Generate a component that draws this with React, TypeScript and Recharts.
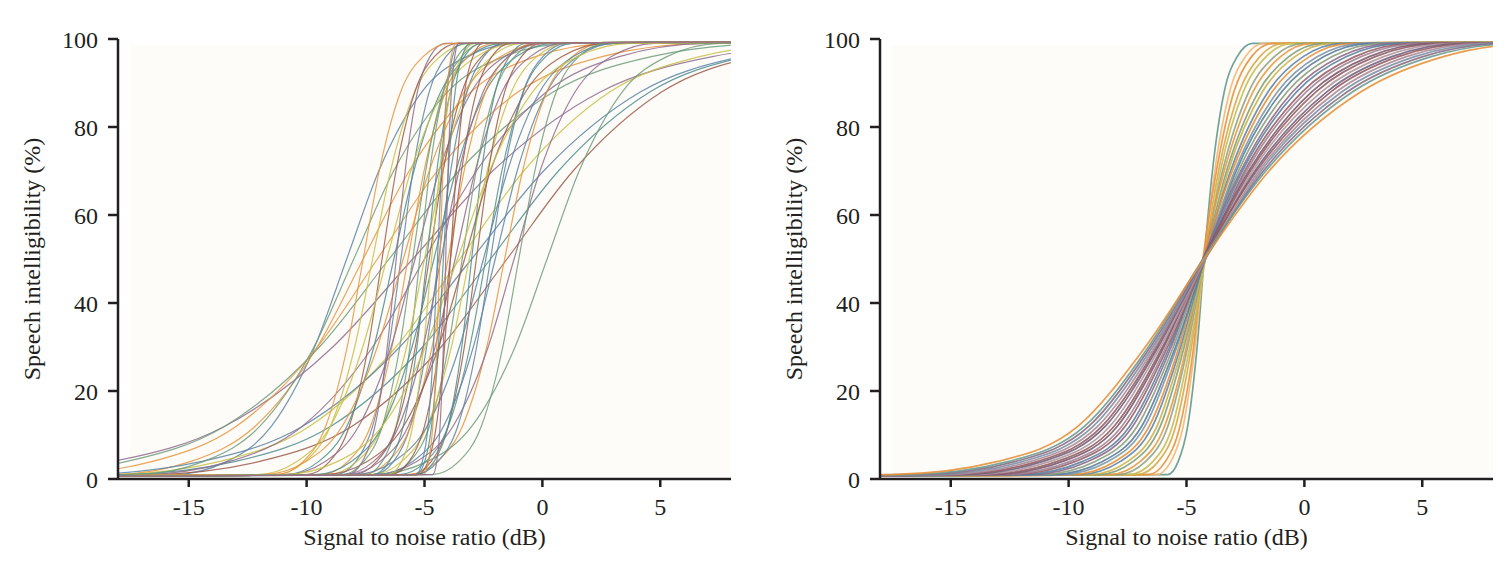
import React from 'react';
import { LineChart, Line, XAxis, YAxis, ReferenceArea } from 'recharts';

// Each curve is listed as the SNR (dB) at which it reaches these intelligibility levels (%)
const LEVELS = [1, 4, 12, 30, 50, 70, 88, 96, 99];
const X_TICKS = [-15, -10, -5, 0, 5];
const Y_TICKS = [0, 20, 40, 60, 80, 100];
const X_TITLE = 'Signal to noise ratio (dB)';
const Y_TITLE = 'Speech intelligibility (%)';

// left panel: individual listeners
const LEFT_SNR: number[][] = [
  [-15.65, -13.38, -11.49, -9.66, -8.3, -6.94, -5.11, -3.22, -0.95],
  [-18.17, -14.91, -12.18, -9.55, -7.6, -5.65, -3.02, -0.29, 2.97],
  [-23.88, -18.21, -13.47, -8.89, -5.5, -2.11, 2.47, 7.21, 12.88],
  [-22.58, -17.62, -13.47, -9.46, -6.5, -3.54, 0.47, 4.62, 9.58],
  [-18.2, -13.67, -9.87, -6.21, -3.5, -0.79, 2.87, 6.67, 11.2],
  [-16.66, -11.99, -8.07, -4.3, -1.5, 1.3, 5.07, 8.99, 13.66],
  [-17.82, -13.01, -8.97, -5.08, -2.2, 0.68, 4.57, 8.61, 13.42],
  [-19.54, -14.44, -10.17, -6.05, -3.0, 0.05, 4.17, 8.44, 13.54],
  [-20.79, -16.53, -12.98, -9.54, -7.0, -4.46, -1.02, 2.53, 6.79],
  [-16.95, -13.26, -10.18, -7.2, -5.0, -2.8, 0.18, 3.26, 6.95],
  [-17.19, -14.36, -11.98, -9.69, -8.0, -6.31, -4.02, -1.64, 1.19],
  [-11.34, -10.06, -8.99, -7.96, -7.2, -6.44, -5.41, -4.34, -3.06],
  [-10.02, -9.02, -8.19, -7.39, -6.8, -6.21, -5.41, -4.58, -3.58],
  [-10.9, -9.48, -8.29, -7.15, -6.3, -5.45, -4.31, -3.12, -1.7],
  [-8.76, -7.91, -7.2, -6.51, -6.0, -5.49, -4.8, -4.09, -3.24],
  [-9.38, -8.24, -7.29, -6.38, -5.7, -5.02, -4.11, -3.16, -2.02],
  [-10.91, -9.21, -7.79, -6.42, -5.4, -4.38, -3.01, -1.59, 0.11],
  [-7.5, -6.79, -6.2, -5.62, -5.2, -4.78, -4.2, -3.61, -2.9],
  [-9.14, -7.86, -6.79, -5.76, -5.0, -4.24, -3.21, -2.14, -0.86],
  [-8.02, -7.02, -6.19, -5.39, -4.8, -4.21, -3.41, -2.58, -1.58],
  [-9.65, -8.1, -6.79, -5.53, -4.6, -3.67, -2.41, -1.1, 0.45],
  [-7.16, -6.31, -5.6, -4.91, -4.4, -3.89, -3.2, -2.49, -1.64],
  [-7.68, -6.54, -5.59, -4.68, -4.0, -3.32, -2.41, -1.46, -0.32],
  [-8.3, -6.88, -5.69, -4.55, -3.7, -2.85, -1.71, -0.52, 0.9],
  [-6.62, -5.62, -4.79, -3.99, -3.4, -2.81, -2.01, -1.18, -0.18],
  [-7.24, -5.96, -4.89, -3.86, -3.1, -2.34, -1.31, -0.24, 1.04],
  [-5.56, -4.71, -4.0, -3.31, -2.8, -2.29, -1.6, -0.89, -0.04],
  [-6.08, -4.94, -3.99, -3.08, -2.4, -1.72, -0.81, 0.14, 1.28],
  [-7.05, -5.5, -4.19, -2.93, -2.0, -1.07, 0.19, 1.5, 3.05],
  [-5.74, -4.46, -3.39, -2.36, -1.6, -0.84, 0.19, 1.26, 2.54],
  [-7.17, -5.33, -3.79, -2.3, -1.2, -0.1, 1.39, 2.93, 4.77],
  [-7.15, -4.88, -2.99, -1.16, 0.2, 1.56, 3.39, 5.28, 7.55],
  [-12.11, -10.41, -8.99, -7.62, -6.6, -5.58, -4.21, -2.79, -1.09],
  [-9.27, -7.43, -5.89, -4.4, -3.3, -2.2, -0.71, 0.83, 2.67],
  [-7.2, -6.49, -5.9, -5.32, -4.9, -4.48, -3.9, -3.31, -2.6],
  [-8.01, -6.31, -4.89, -3.52, -2.5, -1.48, -0.11, 1.31, 3.01],
  [-11.87, -10.03, -8.49, -7.0, -5.9, -4.8, -3.31, -1.77, 0.07],
  [-8.27, -7.63, -7.1, -6.58, -6.2, -5.82, -5.3, -4.77, -4.13],
  [-8.49, -7.57, -6.79, -6.05, -5.5, -4.95, -4.21, -3.43, -2.51],
  [-6.54, -5.97, -5.5, -5.04, -4.7, -4.36, -3.9, -3.43, -2.86],
  [-6.43, -5.65, -5.0, -4.37, -3.9, -3.43, -2.8, -2.15, -1.37],
  [-5.3, -4.59, -4.0, -3.42, -3.0, -2.58, -2.0, -1.41, -0.7],
  [-5.42, -4.42, -3.59, -2.79, -2.2, -1.61, -0.81, 0.02, 1.02],
  [-11.28, -10.14, -9.19, -8.28, -7.6, -6.92, -6.01, -5.06, -3.92],
  [-8.44, -7.16, -6.09, -5.06, -4.3, -3.54, -2.51, -1.44, -0.16],
  [-4.68, -3.54, -2.59, -1.68, -1.0, -0.32, 0.59, 1.54, 2.68],
  [-10.95, -8.68, -6.79, -4.96, -3.6, -2.24, -0.41, 1.48, 3.75],
  [-5.28, -4.85, -4.5, -4.15, -3.9, -3.65, -3.3, -2.95, -2.52],
  [-5.35, -4.99, -4.7, -4.41, -4.2, -3.99, -3.7, -3.41, -3.05],
  [-5.37, -5.09, -4.85, -4.62, -4.45, -4.28, -4.05, -3.81, -3.53],
  [-5.04, -4.83, -4.65, -4.48, -4.35, -4.22, -4.05, -3.87, -3.66],
  [-4.65, -4.48, -4.34, -4.2, -4.1, -4.0, -3.86, -3.72, -3.55],
];

// right panel: curves after normalisation, steepest first
const RIGHT_SNR: number[][] = [
  [-5.8, -5.35, -4.95, -4.55, -4.25, -3.9, -3.4, -2.85, -2.2],
  [-6.27, -5.66, -5.14, -4.64, -4.25, -3.8, -3.17, -2.5, -1.72],
  [-6.62, -5.89, -5.28, -4.7, -4.3, -3.73, -2.99, -2.24, -1.36],
  [-7.09, -6.19, -5.46, -4.79, -4.25, -3.64, -2.76, -1.89, -0.88],
  [-7.44, -6.42, -5.6, -4.86, -4.2, -3.56, -2.59, -1.62, -0.52],
  [-7.91, -6.73, -5.79, -4.95, -4.25, -3.47, -2.36, -1.27, -0.04],
  [-8.26, -6.96, -5.93, -5.01, -4.3, -3.4, -2.18, -1.01, 0.32],
  [-8.73, -7.26, -6.11, -5.1, -4.25, -3.3, -1.95, -0.66, 0.8],
  [-9.08, -7.49, -6.25, -5.17, -4.2, -3.23, -1.78, -0.4, 1.16],
  [-9.54, -7.8, -6.44, -5.25, -4.25, -3.13, -1.54, -0.05, 1.64],
  [-9.9, -8.03, -6.58, -5.32, -4.3, -3.06, -1.37, 0.21, 2.0],
  [-10.36, -8.33, -6.76, -5.41, -4.25, -2.96, -1.14, 0.56, 2.48],
  [-10.71, -8.56, -6.9, -5.47, -4.2, -2.89, -0.96, 0.83, 2.84],
  [-11.18, -8.87, -7.09, -5.56, -4.25, -2.8, -0.73, 1.18, 3.32],
  [-11.65, -9.18, -7.28, -5.65, -4.3, -2.7, -0.5, 1.53, 3.8],
  [-12.0, -9.4, -7.41, -5.72, -4.25, -2.63, -0.33, 1.79, 4.16],
  [-12.47, -9.71, -7.6, -5.8, -4.2, -2.53, -0.09, 2.14, 4.64],
  [-12.82, -9.94, -7.74, -5.87, -4.25, -2.46, 0.08, 2.4, 5.0],
  [-13.29, -10.25, -7.93, -5.96, -4.3, -2.36, 0.31, 2.75, 5.48],
  [-13.64, -10.48, -8.07, -6.02, -4.25, -2.29, 0.49, 3.01, 5.84],
  [-14.11, -10.78, -8.25, -6.11, -4.2, -2.2, 0.72, 3.36, 6.32],
  [-14.58, -11.09, -8.44, -6.2, -4.25, -2.1, 0.95, 3.71, 6.8],
  [-14.93, -11.32, -8.58, -6.27, -4.3, -2.03, 1.12, 3.98, 7.16],
  [-15.39, -11.62, -8.76, -6.35, -4.25, -1.93, 1.36, 4.33, 7.64],
  [-15.86, -11.93, -8.95, -6.44, -4.2, -1.84, 1.59, 4.68, 8.12],
  [-16.33, -12.24, -9.14, -6.53, -4.25, -1.74, 1.82, 5.03, 8.6],
  [-16.8, -12.54, -9.32, -6.62, -4.3, -1.64, 2.05, 5.38, 9.08],
  [-17.5, -13.0, -9.6, -6.75, -4.25, -1.5, 2.4, 5.9, 9.8],
];

const LEFT_COLORS = ['#5b84a6', '#e8943c', '#8f6c8e', '#6e9c7c', '#c8bf48', '#9b5b4c', '#4e8d8f'];
const RIGHT_COLORS = [
  '#5f9a8c', '#f2b77a', '#e8923a', '#d9a94a', '#c5bd55', '#8fa386', '#e89a45',
  '#7fa07a', '#c9b24e', '#5f86aa', '#e8913b', '#7d97ab', '#5a7fa0', '#8a9d80',
  '#8d6b8c', '#5d82a4', '#97606a', '#a28597', '#7b5a70', '#8f5f66', '#b0959f',
  '#6f6280', '#945c64', '#a88a98', '#7c8fa6', '#8a6d86', '#6c9c94', '#e8903a',
];

const SERIF = '"Liberation Serif", "Times New Roman", Times, serif';
const INK = '#231f20';

// tails: far below / above the axis range the curves sit at 0 and 100
const toPoints = (snrs: number[]) => [
  { snr: -40, pct: 0 },
  ...snrs.map((snr, i) => ({ snr, pct: LEVELS[i] })),
  { snr: 30, pct: 100 },
];

interface PanelProps {
  curves: number[][];
  colors: string[];
  width: number;
  right: number;
  strokeWidth: number;
  opacity: number;
}

const Panel: React.FC<PanelProps> = ({ curves, colors, width, right, strokeWidth, opacity }) => (
  <LineChart width={width} height={548} margin={{ top: 31, right, left: 0, bottom: 7 }}>
    <XAxis
      type="number"
      dataKey="snr"
      domain={[-18, 8]}
      allowDataOverflow
      ticks={X_TICKS}
      height={70}
      tickSize={8}
      tickMargin={11}
      axisLine={{ stroke: INK, strokeWidth: 2.5 }}
      tickLine={{ stroke: INK, strokeWidth: 2.5 }}
      tick={{ fill: INK, fontSize: 24, fontFamily: SERIF }}
      label={{ value: X_TITLE, position: 'insideBottom', offset: 4, fill: INK, fontSize: 24, fontFamily: SERIF }}
    />
    <YAxis
      type="number"
      domain={[0, 100]}
      allowDataOverflow
      ticks={Y_TICKS}
      width={110}
      tickSize={10}
      tickMargin={10}
      axisLine={{ stroke: INK, strokeWidth: 2.5 }}
      tickLine={{ stroke: INK, strokeWidth: 2.5 }}
      tick={{ fill: INK, fontSize: 24, fontFamily: SERIF }}
      label={{
        value: Y_TITLE,
        angle: -90,
        position: 'insideLeft',
        offset: 23,
        fill: INK,
        fontSize: 24,
        fontFamily: SERIF,
        style: { textAnchor: 'middle' },
      }}
    />
    <ReferenceArea x1={-17.5} x2={8} y1={1} y2={98.5} fill="#fefcf8" fillOpacity={1} stroke="none" ifOverflow="hidden" />
    {curves.map((c, i) => (
      <Line
        key={i}
        data={toPoints(c)}
        dataKey="pct"
        type="monotone"
        stroke={colors[i % colors.length]}
        strokeWidth={strokeWidth}
        strokeOpacity={opacity}
        dot={false}
        activeDot={false}
        isAnimationActive={false}
      />
    ))}
  </LineChart>
);

export default function App() {
  return (
    <div style={{ position: 'relative', width: 1490, height: 548, background: '#fff' }}>
      <div style={{ position: 'absolute', left: 0, top: 0 }}>
        <Panel curves={LEFT_SNR} colors={LEFT_COLORS} width={740} right={17} strokeWidth={1.2} opacity={0.85} />
      </div>
      <div style={{ position: 'absolute', left: 762, top: 0 }}>
        <Panel curves={RIGHT_SNR} colors={RIGHT_COLORS} width={728} right={5} strokeWidth={1.7} opacity={0.9} />
      </div>
    </div>
  );
}
